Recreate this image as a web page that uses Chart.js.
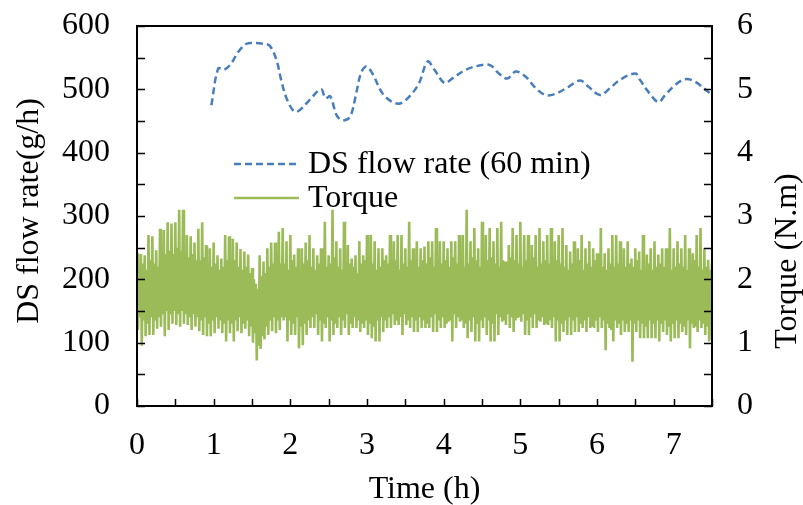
<!DOCTYPE html>
<html>
<head>
<meta charset="utf-8">
<script src="https://cdn.jsdelivr.net/npm/chart.js@4.4.1/dist/chart.umd.min.js"></script>
<style>
  html, body { margin: 0; padding: 0; background: #fff; }
  #wrap { width: 803px; height: 505px; }
</style>
</head>
<body>
<div id="wrap"><canvas id="c" width="803" height="505"></canvas></div>
<script>
// DS flow rate, 60-min average (g/h) against run time (h)
const dsTime = [0.97, 1.06, 1.14, 1.23, 1.32, 1.43, 1.53, 1.64, 1.73, 1.82, 1.88, 1.95,
  2.05, 2.12, 2.25, 2.40, 2.46, 2.52, 2.60, 2.66, 2.73, 2.79, 2.86, 2.92, 2.99, 3.07,
  3.20, 3.33, 3.44, 3.57, 3.68, 3.79, 3.88, 4.01, 4.11, 4.29, 4.48, 4.61, 4.72, 4.83,
  4.94, 5.07, 5.20, 5.33, 5.46, 5.63, 5.78, 5.89, 6.04, 6.17, 6.30, 6.50, 6.56, 6.67,
  6.80, 6.89, 7.02, 7.15, 7.28, 7.45, 7.50];
const dsFlow = [475, 533, 531, 541, 559, 572, 573, 572, 569, 546, 515, 486,
  465, 467, 483, 500, 486, 489, 460, 452, 452, 459, 494, 525, 536, 525,
  494, 480, 478, 491, 510, 544, 531, 510, 517, 531, 538, 538, 525, 517,
  528, 520, 502, 491, 493, 504, 514, 504, 491, 502, 515, 525, 515, 496,
  480, 491, 507, 516, 512, 496, 492];

// Torque (N.m) in 0.05 h intervals: the large swing (high/low) and the
// smaller swing that follows it (high2/low2) within each interval
const torqueStep = 0.05;
const torqueHigh = [
  2.41, 2.40, 2.38, 2.70, 2.68, 2.46, 2.80, 2.78, 2.90, 2.88,
  2.90, 3.10, 3.10, 2.70, 2.68, 2.58, 2.80, 2.90, 2.54, 2.49,
  2.58, 2.38, 2.33, 2.70, 2.68, 2.64, 2.58, 2.48, 2.44, 2.39,
  2.18, 1.93, 2.38, 2.28, 2.49, 2.58, 2.58, 2.75, 2.81, 2.60,
  2.70, 2.39, 2.49, 2.49, 2.58, 2.70, 2.49, 2.38, 2.49, 2.91,
  2.38, 3.10, 2.60, 2.49, 2.91, 2.54, 2.33, 2.38, 2.60, 2.38,
  2.70, 2.70, 2.60, 2.49, 2.49, 2.38, 2.70, 2.60, 2.70, 2.70,
  2.49, 2.91, 2.49, 2.60, 2.49, 2.52, 2.60, 2.60, 2.81, 2.60,
  2.60, 2.49, 2.60, 2.60, 2.70, 2.70, 3.10, 2.60, 2.81, 2.49,
  2.91, 2.70, 2.81, 2.60, 2.81, 2.91, 2.28, 2.54, 2.81, 2.70,
  2.91, 2.70, 2.70, 2.54, 2.70, 2.81, 2.60, 2.70, 2.81, 2.60,
  2.70, 2.81, 2.54, 2.44, 2.60, 2.49, 2.70, 2.49, 2.60, 2.49,
  2.41, 2.81, 2.41, 2.49, 2.70, 2.70, 2.60, 2.49, 2.60, 2.33,
  2.49, 2.44, 2.70, 2.39, 2.49, 2.60, 2.39, 2.49, 2.49, 2.81,
  2.49, 2.60, 2.49, 2.70, 2.49, 2.41, 2.70, 2.81, 2.49, 2.31,
  2.25];
const torqueLow = [
  1.20, 0.95, 1.10, 1.12, 1.12, 1.22, 1.25, 1.10, 1.20, 1.30,
  1.28, 1.25, 1.30, 1.28, 1.20, 1.25, 1.18, 1.12, 1.10, 1.10,
  1.15, 1.22, 1.15, 1.02, 1.15, 1.02, 1.18, 1.15, 1.22, 1.10,
  1.00, 0.72, 0.90, 1.05, 1.12, 1.18, 1.15, 1.20, 1.35, 1.02,
  1.12, 1.12, 0.91, 0.96, 1.12, 1.23, 1.23, 1.12, 1.02, 1.23,
  1.02, 1.12, 1.23, 1.12, 1.23, 1.12, 1.23, 1.23, 1.17, 1.23,
  1.12, 1.07, 1.02, 1.02, 1.17, 1.23, 1.23, 1.28, 1.28, 1.12,
  1.28, 1.23, 1.17, 1.17, 1.23, 1.23, 1.23, 1.17, 1.17, 1.23,
  1.23, 1.33, 1.02, 1.23, 1.33, 1.23, 1.07, 1.17, 1.02, 1.02,
  1.23, 1.12, 1.02, 1.02, 1.12, 1.33, 1.28, 1.23, 1.17, 1.39,
  1.33, 1.12, 1.12, 1.23, 1.23, 1.33, 1.28, 1.28, 1.23, 1.02,
  1.02, 1.17, 1.12, 1.12, 1.17, 1.17, 1.23, 1.17, 1.23, 1.23,
  1.17, 1.23, 0.88, 1.23, 1.02, 1.23, 1.12, 1.17, 1.17, 0.70,
  1.17, 1.07, 1.07, 1.07, 1.07, 1.07, 1.02, 1.17, 1.12, 1.02,
  1.07, 1.07, 1.17, 1.12, 0.91, 1.23, 1.17, 1.23, 1.12, 1.02,
  1.05];
const torqueHigh2 = [
  2.20, 2.25, 2.15, 2.30, 2.25, 2.20, 2.35, 2.40, 2.45, 2.40,
  2.50, 2.45, 2.40, 2.35, 2.40, 2.30, 2.30, 2.35, 2.25, 2.20,
  2.25, 2.15, 2.20, 2.30, 2.25, 2.30, 2.20, 2.15, 2.20, 2.10,
  2.00, 1.85, 2.05, 2.10, 2.20, 2.25, 2.30, 2.25, 2.25, 2.15,
  2.30, 2.20, 2.10, 2.25, 2.30, 2.20, 2.15, 2.25, 2.30, 2.20,
  2.25, 2.35, 2.20, 2.15, 2.30, 2.25, 2.20, 2.10, 2.25, 2.30,
  2.20, 2.25, 2.15, 2.20, 2.30, 2.25, 2.20, 2.30, 2.15, 2.25,
  2.20, 2.30, 2.25, 2.20, 2.30, 2.25, 2.35, 2.20, 2.30, 2.25,
  2.30, 2.20, 2.35, 2.25, 2.30, 2.20, 2.25, 2.35, 2.30, 2.20,
  2.25, 2.30, 2.35, 2.25, 2.20, 2.30, 2.25, 2.35, 2.30, 2.25,
  2.20, 2.30, 2.25, 2.35, 2.20, 2.25, 2.30, 2.25, 2.20, 2.30,
  2.25, 2.20, 2.15, 2.25, 2.20, 2.30, 2.15, 2.25, 2.20, 2.30,
  2.25, 2.20, 2.15, 2.25, 2.20, 2.25, 2.15, 2.20, 2.25, 2.20,
  2.30, 2.15, 2.20, 2.25, 2.15, 2.20, 2.25, 2.20, 2.30, 2.15,
  2.20, 2.25, 2.20, 2.15, 2.25, 2.30, 2.20, 2.15, 2.20, 2.15,
  2.20];
const torqueLow2 = [
  1.40, 1.35, 1.30, 1.40, 1.35, 1.40, 1.45, 1.50, 1.45, 1.50,
  1.45, 1.50, 1.45, 1.40, 1.45, 1.40, 1.35, 1.40, 1.30, 1.35,
  1.40, 1.35, 1.30, 1.35, 1.30, 1.35, 1.40, 1.30, 1.35, 1.25,
  1.15, 0.95, 1.10, 1.25, 1.35, 1.40, 1.35, 1.40, 1.40, 1.35,
  1.30, 1.40, 1.25, 1.30, 1.35, 1.40, 1.45, 1.35, 1.30, 1.40,
  1.35, 1.30, 1.40, 1.35, 1.45, 1.30, 1.40, 1.35, 1.30, 1.35,
  1.30, 1.25, 1.35, 1.40, 1.35, 1.40, 1.45, 1.35, 1.40, 1.45,
  1.35, 1.40, 1.35, 1.40, 1.35, 1.30, 1.40, 1.45, 1.35, 1.40,
  1.30, 1.35, 1.45, 1.40, 1.35, 1.30, 1.35, 1.40, 1.30, 1.35,
  1.40, 1.35, 1.30, 1.45, 1.40, 1.35, 1.45, 1.40, 1.35, 1.40,
  1.45, 1.35, 1.40, 1.45, 1.35, 1.40, 1.30, 1.35, 1.40, 1.35,
  1.30, 1.35, 1.40, 1.35, 1.40, 1.30, 1.35, 1.40, 1.25, 1.35,
  1.40, 1.35, 1.30, 1.20, 1.35, 1.30, 1.35, 1.30, 1.35, 1.30,
  1.35, 1.30, 1.25, 1.35, 1.30, 1.35, 1.30, 1.35, 1.25, 1.30,
  1.35, 1.30, 1.25, 1.35, 1.30, 1.25, 1.35, 1.30, 1.25, 1.30,
  1.30];

const timeMax = 7.5;
const flowMax = 600;
const torqueMax = 6;

const FONT = "'Liberation Serif', 'Times New Roman', Times, serif";
const BLUE = '#4A7EBB';
const GREEN = '#9BBB59';

Chart.defaults.font.family = FONT;
Chart.defaults.font.size = 32;
Chart.defaults.color = '#000';

// Trace the torque signal: large swing, then small swing, in each interval
const torquePoints = [];
const q = torqueStep / 4;
torqueHigh.forEach((hi, i) => {
  const t = i * torqueStep;
  torquePoints.push({ x: t, y: hi });
  torquePoints.push({ x: Math.min(t + q, timeMax), y: torqueLow[i] });
  torquePoints.push({ x: Math.min(t + 2 * q, timeMax), y: torqueHigh2[i] });
  torquePoints.push({ x: Math.min(t + 3 * q, timeMax), y: torqueLow2[i] });
});

const dsPoints = dsTime.map((t, i) => ({ x: t, y: dsFlow[i] }));

// Box frame with inward tick marks on all three axes
const framePlugin = {
  id: 'frame',
  afterDatasetsDraw(chart) {
    const { ctx, chartArea: a, scales } = chart;
    ctx.save();
    ctx.strokeStyle = '#000';
    ctx.lineWidth = 1.5;
    ctx.beginPath();
    for (let v = 0; v <= flowMax; v += 50) {
      const y = Math.round(scales.y.getPixelForValue(v)) + 0.5;
      ctx.moveTo(a.left, y); ctx.lineTo(a.left + 8, y);
    }
    for (let v = 0; v <= torqueMax; v += 0.5) {
      const y = Math.round(scales.y2.getPixelForValue(v)) + 0.5;
      ctx.moveTo(a.right, y); ctx.lineTo(a.right - 8, y);
    }
    for (let v = 0; v <= timeMax; v += 0.5) {
      const x = Math.round(scales.x.getPixelForValue(v)) + 0.5;
      ctx.moveTo(x, a.bottom); ctx.lineTo(x, a.bottom - 7);
    }
    ctx.stroke();
    ctx.lineWidth = 2;
    ctx.strokeRect(a.left, a.top, a.right - a.left, a.bottom - a.top);
    ctx.restore();
  }
};

// Axis titles
const titlePlugin = {
  id: 'axisTitles',
  afterDraw(chart) {
    const { ctx, chartArea: a } = chart;
    ctx.save();
    ctx.fillStyle = '#000';
    ctx.font = '32px ' + FONT;
    ctx.textAlign = 'center';
    ctx.textBaseline = 'middle';
    ctx.fillText('Time (h)', (a.left + a.right) / 2, 490);
    ctx.save();
    ctx.translate(30, 211);
    ctx.rotate(-Math.PI / 2);
    ctx.fillText('DS flow rate(g/h)', 0, 0);
    ctx.restore();
    ctx.save();
    ctx.translate(788, 261);
    ctx.rotate(-Math.PI / 2);
    ctx.fillText('Torque (N.m)', 0, 0);
    ctx.restore();
    ctx.restore();
  }
};

// Legend inside the plot area
const legendPlugin = {
  id: 'innerLegend',
  afterDraw(chart) {
    const { ctx } = chart;
    const rows = [164, 198];
    ctx.save();
    ctx.font = '32px ' + FONT;
    ctx.textAlign = 'left';
    ctx.textBaseline = 'middle';
    chart.data.datasets.forEach((ds, i) => {
      const y = rows[i];
      ctx.strokeStyle = ds.borderColor;
      ctx.lineWidth = Math.min(ds.borderWidth, 2.5);
      ctx.setLineDash(ds.borderDash || []);
      ctx.beginPath();
      ctx.moveTo(234, y);
      ctx.lineTo(299, y);
      ctx.stroke();
      ctx.setLineDash([]);
      ctx.fillStyle = '#000';
      ctx.fillText(ds.label, 308, y + 1);
    });
    ctx.restore();
  }
};

// Keep the plot box fixed: no extra room for overhanging tick labels
function noOverhang(s) {
  s.paddingTop = 0; s.paddingBottom = 0; s.paddingLeft = 0; s.paddingRight = 0;
}

new Chart(document.getElementById('c'), {
  type: 'line',
  data: {
    datasets: [
      {
        label: 'DS flow rate (60 min)',
        data: dsPoints,
        yAxisID: 'y',
        borderColor: BLUE,
        borderWidth: 2.5,
        borderDash: [7, 4],
        pointRadius: 0,
        tension: 0.35,
        fill: false
      },
      {
        label: 'Torque',
        data: torquePoints,
        yAxisID: 'y2',
        borderColor: GREEN,
        borderWidth: 2.6,
        pointRadius: 0,
        tension: 0,
        fill: false
      }
    ]
  },
  options: {
    responsive: false,
    animation: false,
    events: [],
    layout: { padding: { top: 26, left: 0, right: 0, bottom: 0 } },
    plugins: { legend: { display: false }, tooltip: { enabled: false } },
    scales: {
      x: {
        type: 'linear', min: 0, max: timeMax,
        grid: { display: false, drawTicks: false },
        border: { display: false },
        ticks: { stepSize: 1, includeBounds: false, padding: 20, maxRotation: 0 },
        afterFit(s) { s.height = 99; noOverhang(s); }
      },
      y: {
        position: 'left', min: 0, max: flowMax,
        grid: { display: false, drawTicks: false },
        border: { display: false },
        ticks: { stepSize: 100, padding: 27 },
        afterFit(s) { s.width = 137; noOverhang(s); }
      },
      y2: {
        position: 'right', min: 0, max: torqueMax,
        grid: { display: false, drawTicks: false },
        border: { display: false },
        ticks: { stepSize: 1, padding: 25 },
        afterFit(s) { s.width = 91; noOverhang(s); }
      }
    }
  },
  plugins: [framePlugin, titlePlugin, legendPlugin]
});
</script>
</body>
</html>
